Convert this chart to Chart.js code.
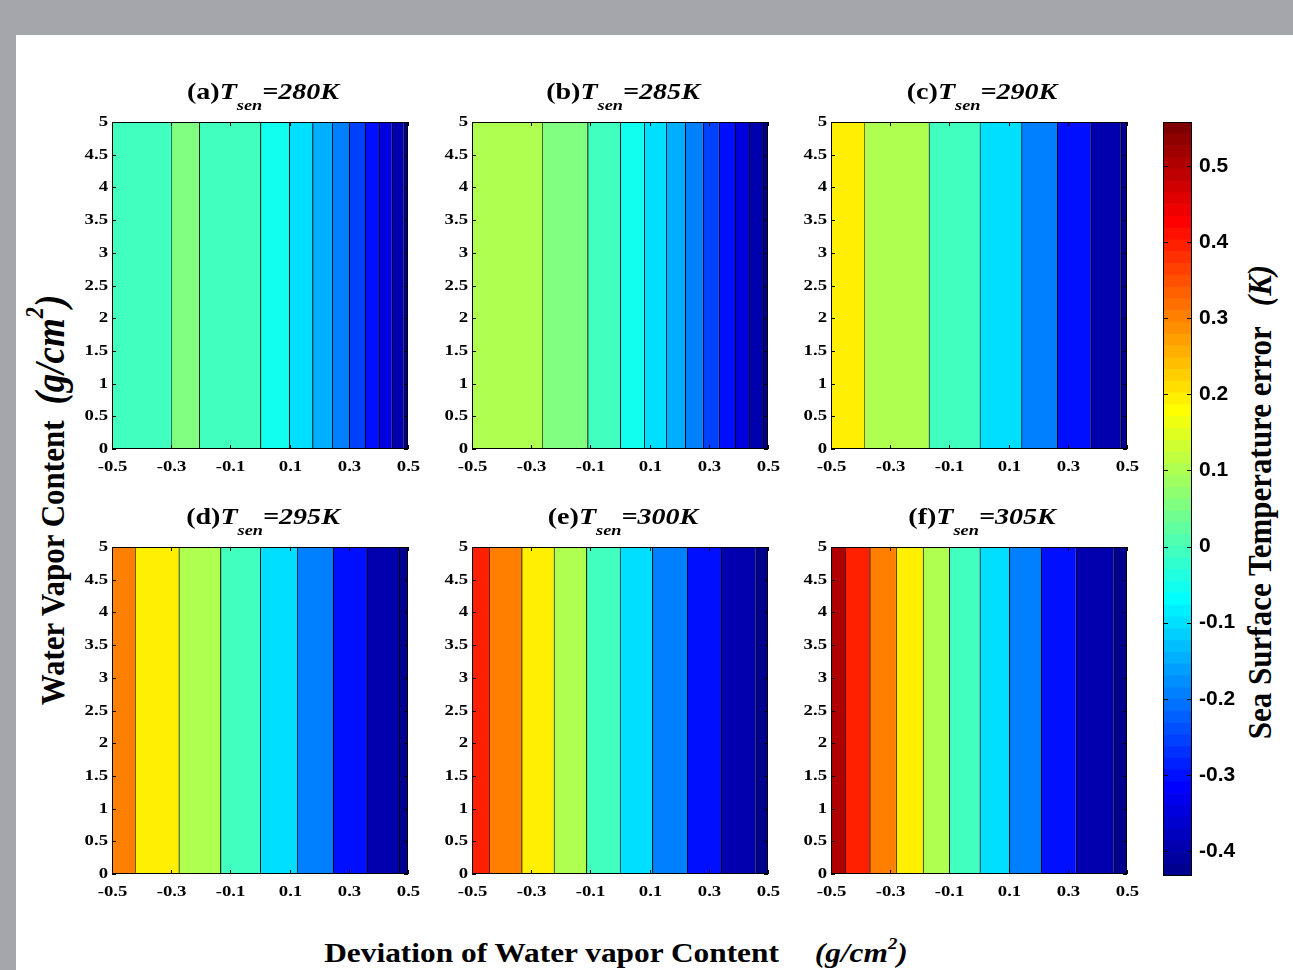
<!DOCTYPE html>
<html lang="en">
<head>
<meta charset="UTF-8">
<title>Sea surface temperature error vs water vapor deviation</title>
<script src="https://cdn.jsdelivr.net/npm/chart.js"></script>
<style>
  body { margin: 0; width: 1293px; height: 970px; overflow: hidden; position: relative; background: #a4a6ab; }
  #sheet { position: absolute; left: 16px; top: 35px; right: 0; bottom: 0; background: #fff; }
  canvas { position: absolute; }
  .ttl { position: absolute; font: bold 23px "Liberation Serif", serif; line-height: 26px; white-space: nowrap; color: #000; transform: translateX(-50%) scaleX(1.22); }
  .ttl i { font-style: italic; }
  .ttl .sub { font-size: 15px; font-style: italic; position: relative; top: 11px; }
  .lbl { position: absolute; font: bold 31px "Liberation Serif", serif; line-height: 30px; white-space: nowrap; color: #000; }
  .lbl .unit { font-style: italic; }
  .lbl sup { font-size: 0.6em; vertical-align: baseline; position: relative; top: -0.8em; }
</style>
</head>
<body>
<div id="sheet"></div>

<div class="lbl" style="left:53px; top:500px; transform:translate(-50%,-50%) rotate(-90deg) scaleY(1.12);">Water Vapor Content<span class="unit" style="padding-left:16px; font-size:37px;">(g/cm<sup>2</sup>)</span></div>
<div class="lbl" style="left:616px; top:938px; font-size:28px; transform:translateX(-50%) scaleX(1.12);">Deviation of Water vapor Content<span class="unit" style="padding-left:32px;">(g/cm<sup>2</sup>)</span></div>
<div class="lbl" style="left:1260px; top:502px; transform:translate(-50%,-50%) rotate(-90deg) scaleY(1.12);">Sea Surface Temperature error<span class="unit" style="padding-left:20px;">(K)</span></div>

<script>
// axis ticks
const devTicks = [-0.5, -0.3, -0.1, 0.1, 0.3, 0.5];
const wvTicks = [0, 0.5, 1, 1.5, 2, 2.5, 3, 3.5, 4, 4.5, 5];
const cbarTicks = [-0.4, -0.3, -0.2, -0.1, 0, 0.1, 0.2, 0.3, 0.4, 0.5];
// colour axis limits (K)
const cMin = -0.433, cMax = 0.558;

const panelTags = ['a', 'b', 'c', 'd', 'e', 'f'];
const tSen = [280, 285, 290, 295, 300, 305];

// contour crossings along the deviation axis (g/cm^2), per sensor temperature
const edges280 = [-0.5, -0.300, -0.206, 0.001, 0.098, 0.177, 0.243, 0.301, 0.355, 0.402, 0.445, 0.485, 0.5];
const edges285 = [-0.5, -0.264, -0.110, 0.000, 0.081, 0.155, 0.220, 0.280, 0.334, 0.389, 0.437, 0.483, 0.5];
const edges290 = [-0.5, -0.388, -0.170, 0.002, 0.143, 0.264, 0.378, 0.479, 0.5];
const edges295 = [-0.5, -0.423, -0.275, -0.134, 0.000, 0.124, 0.247, 0.362, 0.470, 0.5];
const edges300 = [-0.5, -0.443, -0.333, -0.224, -0.114, -0.001, 0.109, 0.226, 0.342, 0.458, 0.5];
const edges305 = [-0.5, -0.453, -0.370, -0.281, -0.190, -0.101, 0.002, 0.102, 0.210, 0.327, 0.455, 0.5];

// SST error level (K) of each band between two crossings
const levels280 = [0, 0.05, 0, -0.05, -0.1, -0.15, -0.2, -0.25, -0.3, -0.35, -0.4, -0.45];
const levels285 = [0.1, 0.05, 0, -0.05, -0.1, -0.15, -0.2, -0.25, -0.3, -0.35, -0.4, -0.45];
const levels290 = [0.2, 0.1, 0, -0.1, -0.2, -0.3, -0.4, -0.5];
const levels295 = [0.3, 0.2, 0.1, 0, -0.1, -0.2, -0.3, -0.4, -0.5];
const levels300 = [0.4, 0.3, 0.2, 0.1, 0, -0.1, -0.2, -0.3, -0.4, -0.5];
const levels305 = [0.5, 0.4, 0.3, 0.2, 0.1, 0, -0.1, -0.2, -0.3, -0.4, -0.5];

const panelEdges = [edges280, edges285, edges290, edges295, edges300, edges305];
const panelLevels = [levels280, levels285, levels290, levels295, levels300, levels305];

// page layout of the plot boxes
const plotLeft = [112, 472, 831, 112, 472, 831];
const plotTop = [122, 122, 122, 547, 547, 547];
const plotW = 296, plotH = 327;
const padTop = 20, padRight = 25, yAxisW = 40, xAxisH = 32;

// 64-step jet colormap, built the same way as matlab's jet(64)
function jetMap(m) {
  const n = Math.ceil(m / 4);
  const u = [];
  for (let i = 1; i <= n; i++) u.push(i / n);
  for (let i = 0; i < n - 1; i++) u.push(1);
  for (let i = n; i >= 1; i--) u.push(i / n);
  const g0 = Math.ceil(n / 2) - (m % 4 === 1 ? 1 : 0);
  const map = Array.from({length: m}, () => [0, 0, 0]);
  u.forEach((val, k) => {
    const gi = g0 + k + 1, ri = gi + n, bi = gi - n;
    if (ri >= 1 && ri <= m) map[ri - 1][0] = val;
    if (gi >= 1 && gi <= m) map[gi - 1][1] = val;
    if (bi >= 1 && bi <= m) map[bi - 1][2] = val;
  });
  return map;
}
const jet64 = jetMap(64);
const rgb = c => `rgb(${Math.round(c[0] * 255)},${Math.round(c[1] * 255)},${Math.round(c[2] * 255)})`;

function levelColor(v) {
  let i = Math.floor((v - cMin) / (cMax - cMin) * 64);
  i = Math.max(0, Math.min(63, i));
  return rgb(jet64[i]);
}

// tick labels in a slightly widened serif, like the printed figure
function wideText(ctx, text, x, y, align) {
  ctx.save();
  ctx.translate(x, y);
  ctx.scale(1.25, 1);
  ctx.textAlign = align;
  ctx.textBaseline = 'middle';
  ctx.fillText(text, 0, 0);
  ctx.restore();
}

// box around the plot area, inward tick marks on every side, and the
// panel tick labels taken from the scales' own ticks
const frameTicks = {
  id: 'frameTicks',
  afterDatasetsDraw(chart, args, opts) {
    const {ctx, chartArea: a} = chart;
    ctx.save();
    ctx.strokeStyle = '#000';
    ctx.fillStyle = '#000';
    ctx.lineWidth = 1;
    ctx.font = 'bold 15px "Liberation Serif"';
    ctx.beginPath();
    if (opts.xId) {
      const xs = chart.scales[opts.xId];
      xs.ticks.forEach(t => {
        const px = Math.round(xs.getPixelForValue(t.value)) + 0.5;
        ctx.moveTo(px, a.bottom); ctx.lineTo(px, a.bottom - opts.len);
        ctx.moveTo(px, a.top); ctx.lineTo(px, a.top + opts.len);
        if (opts.labels) wideText(ctx, String(t.value), px, a.bottom + 18, 'center');
      });
    }
    if (opts.yId) {
      const ys = chart.scales[opts.yId];
      ys.ticks.forEach(t => {
        const py = Math.round(ys.getPixelForValue(t.value)) + 0.5;
        ctx.moveTo(a.left, py); ctx.lineTo(a.left + opts.len, py);
        ctx.moveTo(a.right, py); ctx.lineTo(a.right - opts.len, py);
        if (opts.labels) wideText(ctx, String(t.value), a.left - 4, py, 'right');
      });
    }
    ctx.stroke();
    ctx.strokeRect(Math.round(a.left) + 0.5, Math.round(a.top) + 0.5, Math.round(a.width) - 1, Math.round(a.height) - 1);
    ctx.restore();
  }
};

function makePanel(k) {
  const cv = document.createElement('canvas');
  cv.width = yAxisW + plotW + padRight;
  cv.height = padTop + plotH + xAxisH;
  cv.style.left = (plotLeft[k] - yAxisW) + 'px';
  cv.style.top = (plotTop[k] - padTop) + 'px';
  document.body.appendChild(cv);

  const ttl = document.createElement('div');
  ttl.className = 'ttl';
  ttl.style.left = (plotLeft[k] + plotW / 2 + 3) + 'px';
  ttl.style.top = (plotTop[k] - 43) + 'px';
  ttl.innerHTML = `(${panelTags[k]})<i>T</i><span class="sub">sen</span><i>=${tSen[k]}K</i>`;
  document.body.appendChild(ttl);

  const edges = panelEdges[k];
  const datasets = panelLevels[k].map((lv, i) => ({
    data: [[edges[i], edges[i + 1]]],
    yAxisID: 'y',
    backgroundColor: levelColor(lv),
    borderColor: '#000',
    borderWidth: {left: i ? 1.2 : 0, right: 0, top: 0, bottom: 0},
    borderSkipped: false,
    grouped: false,
    barPercentage: 1,
    categoryPercentage: 1
  }));

  new Chart(cv, {
    type: 'bar',
    data: {labels: [''], datasets},
    options: {
      indexAxis: 'y',
      responsive: false,
      animation: false,
      layout: {padding: {top: padTop, right: padRight, left: 0, bottom: 0}},
      plugins: {
        legend: {display: false},
        tooltip: {enabled: false},
        frameTicks: {xId: 'x', yId: 'wv', len: 4, labels: true}
      },
      scales: {
        x: {
          type: 'linear', min: -0.5, max: 0.5,
          grid: {display: false, drawTicks: false},
          border: {display: false},
          afterBuildTicks: s => { s.ticks = devTicks.map(v => ({value: v})); },
          afterFit: s => { s.height = xAxisH; },
          ticks: {display: false}
        },
        y: {type: 'category', display: false},
        wv: {
          type: 'linear', axis: 'y', position: 'left', min: 0, max: 5, offset: false,
          grid: {display: false, drawTicks: false, offset: false},
          border: {display: false},
          afterBuildTicks: s => { s.ticks = wvTicks.map(v => ({value: v})); },
          afterFit: s => { s.width = yAxisW; },
          ticks: {display: false}
        }
      }
    },
    plugins: [frameTicks]
  });
}

for (let k = 0; k < 6; k++) makePanel(k);

// colour bar
(function () {
  const barTop = 122, barH = 754, barW = 29, pad = 28;
  const cv = document.createElement('canvas');
  cv.width = barW + 70;
  cv.height = barH + 2 * pad;
  cv.style.left = '1163px';
  cv.style.top = (barTop - pad) + 'px';
  document.body.appendChild(cv);

  const step = (cMax - cMin) / 64;
  const datasets = jet64.map((c, i) => ({
    data: [[cMin + i * step, cMin + (i + 1) * step]],
    backgroundColor: rgb(c),
    borderWidth: 0,
    grouped: false,
    barPercentage: 1,
    categoryPercentage: 1
  }));

  new Chart(cv, {
    type: 'bar',
    data: {labels: [''], datasets},
    options: {
      responsive: false,
      animation: false,
      layout: {padding: {top: pad, bottom: pad, left: 0, right: 0}},
      plugins: {
        legend: {display: false},
        tooltip: {enabled: false},
        frameTicks: {yId: 'y', len: 5, labels: false}
      },
      scales: {
        x: {type: 'category', display: false},
        y: {
          type: 'linear', position: 'right', min: cMin, max: cMax,
          grid: {display: false, drawTicks: false},
          border: {display: false},
          afterBuildTicks: s => { s.ticks = cbarTicks.map(v => ({value: v})); },
          afterFit: s => { s.width = 70; },
          ticks: {font: {family: 'Liberation Sans', weight: 'bold', size: 21}, color: '#000', padding: 7, autoSkip: false, callback: v => String(v)}
        }
      }
    },
    plugins: [frameTicks]
  });
})();
</script>
</body>
</html>
